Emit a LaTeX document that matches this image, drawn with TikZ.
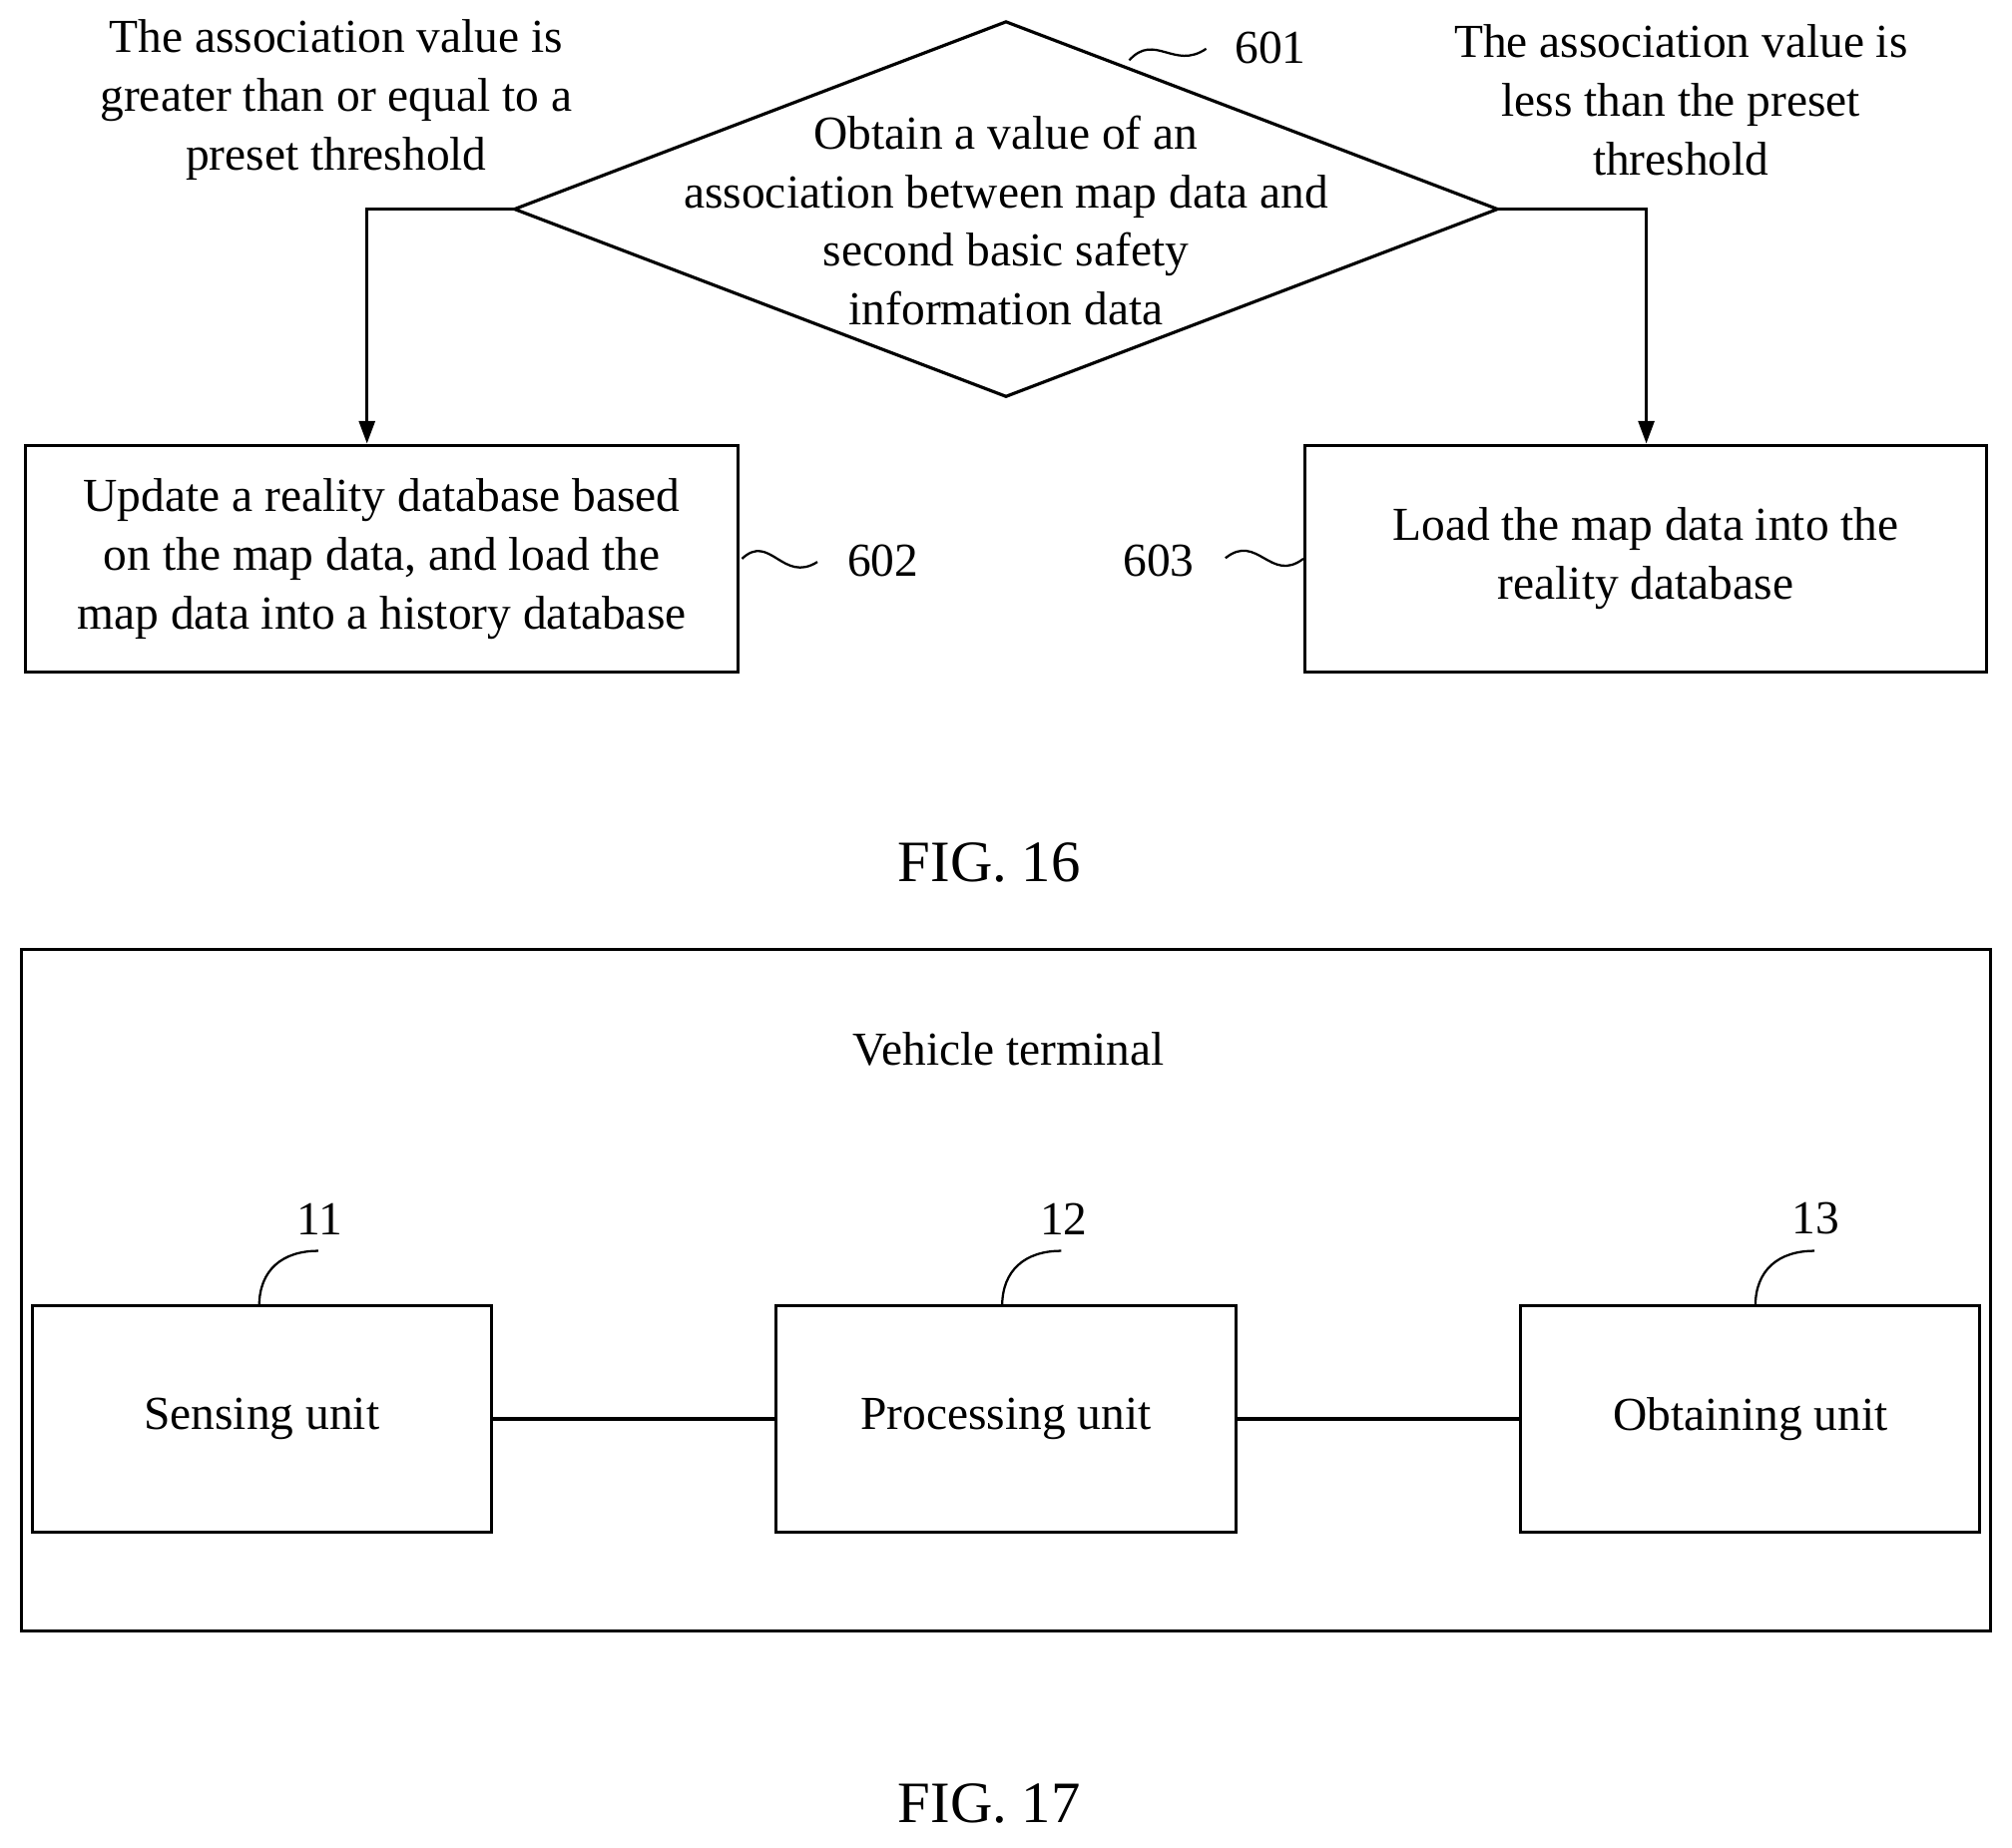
\documentclass[tikz,border=0pt]{standalone}
\usepackage{fontspec}
\setmainfont{Liberation Serif}
\usetikzlibrary{shapes.geometric,arrows.meta}
\begin{document}
\begin{tikzpicture}[x=0.02cm,y=-0.02cm,
  every node/.style={font=\fontsize{21}{26}\selectfont,align=center,inner sep=0},
  box/.style={draw,line width=1.4pt},
  arr/.style={line width=1.4pt,-{Triangle[length=10pt,width=7pt]}},
  ln/.style={line width=1.4pt},
  sq/.style={line width=1pt}]
\useasboundingbox (0,0) rectangle (1568,1440);
\coordinate (dt) at (784,17); \coordinate (dl) at (401,163);
\coordinate (dr) at (1167,163); \coordinate (db) at (784,309);
\draw[ln] (dt)--(dr)--(db)--(dl)--cycle;
\node (dtext) at (784,172) {Obtain a value of an\\association between map data and\\second basic safety\\information data};
\node[box,minimum width=555*0.02cm,minimum height=177*0.02cm] (b602) at (297.5,435.5) {Update a reality database based\\on the map data, and load the\\map data into a history database};
\node[box,minimum width=531*0.02cm,minimum height=177*0.02cm] (b603) at (1282.5,435.5) {Load the map data into the\\reality database};
\draw[arr] (dl) -| (b602.north -| 286,0);
\draw[arr] (dr) -| (b603.north -| 1283,0);
\node (lt) at (262,78) {The association value is\\greater than or equal to a\\preset threshold};
\node (rt) at (1310,78) {The association value is\\less than the preset\\threshold};
\node (n601) at (990,37) {601};
\draw[sq] (880,47) .. controls (900,25) and (915,55) .. (940,38);
\node (n602) at (688,437) {602};
\draw[sq] (b602.east) ++(2,0) .. controls (600,415) and (610,455) .. (637,438);
\node (n603) at (903,437) {603};
\draw[sq] (955,435) .. controls (980,415) and (990,455) .. (b603.west);
\node[font=\fontsize{26}{30}\selectfont] (f16) at (771,672) {FIG. 16};
\node[box,minimum width=1534*0.02cm,minimum height=531*0.02cm] (outer) at (784,1005.5) {};
\node (vt) at (786,818) {Vehicle terminal};
\node[box,minimum width=358*0.02cm,minimum height=176*0.02cm] (s) at (204,1106) {Sensing unit};
\node[box,minimum width=358*0.02cm,minimum height=176*0.02cm] (p) at (784,1106) {Processing unit};
\node[box,minimum width=358*0.02cm,minimum height=176*0.02cm] (o) at (1364,1106) {Obtaining unit};
\draw[ln] (s)--(p); \draw[ln] (p)--(o);
\node (n11) at (249,950) {11};
\node (n12) at (829,950) {12};
\node (n13) at (1415,950) {13};
\draw[sq] (202,1018) .. controls (202,990) and (220,975) .. (248,975);
\draw[sq] (781,1018) .. controls (781,990) and (799,975) .. (827,975);
\draw[sq] (1368,1018) .. controls (1368,990) and (1386,975) .. (1414,975);
\node[font=\fontsize{26}{30}\selectfont] (f17) at (771,1406) {FIG. 17};
\end{tikzpicture}
\end{document}
